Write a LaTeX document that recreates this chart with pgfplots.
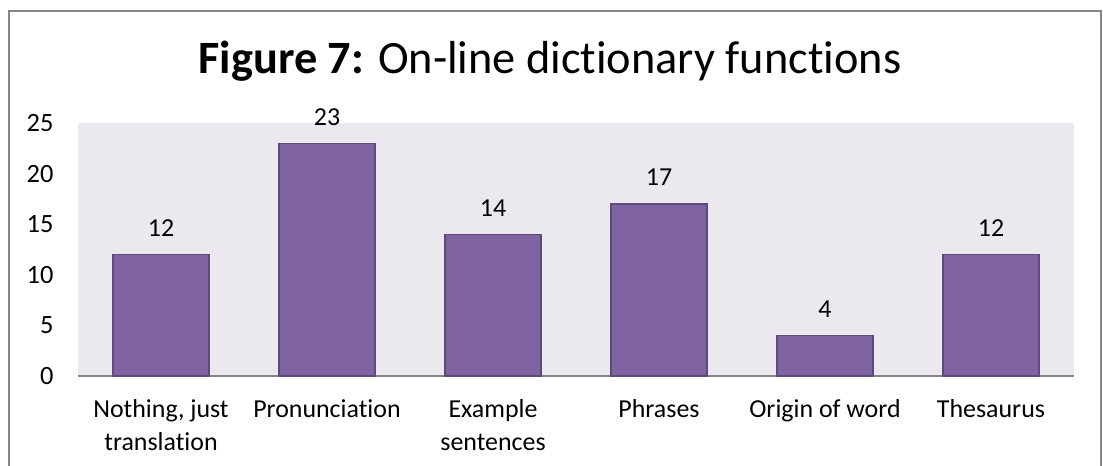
\documentclass[border=0pt]{standalone}
\usepackage{fontspec}
\setmainfont{Carlito}[Ligatures={NoCommon}]
\usepackage{pgfplots}
\pgfplotsset{compat=1.18}
\definecolor{barfill}{RGB}{128,100,162}
\definecolor{baredge}{RGB}{94,74,124}
\definecolor{plotbg}{RGB}{235,233,239}
\definecolor{axisgray}{RGB}{134,134,134}
\definecolor{framegray}{RGB}{134,134,134}
\begin{document}
\begin{tikzpicture}
\useasboundingbox (0,0) rectangle (1103bp,466bp);
\draw[framegray, line width=1.3bp] (9bp,-10bp) rectangle (1101bp,455bp);
\node[anchor=base, inner sep=0pt] at (550bp,392bp) {\fontsize{46.5}{54}\selectfont\textbf{Figure 7:} On-line dictionary functions};
\begin{axis}[
  at={(78bp,90bp)}, anchor=south west,
  scale only axis, width=996bp, height=253bp,
  xmin=-0.5, xmax=5.5, ymin=0, ymax=25,
  ybar, bar width=96bp,
  axis background/.style={fill=plotbg},
  axis x line*=bottom, axis y line*=left,
  x axis line style={draw=axisgray, line width=1.3bp, -},
  y axis line style={draw=none},
  major tick length=0pt,
  xtick={0,1,2,3,4,5},
  xticklabels={{Nothing, just\\translation},{Pronunciation},{Example\\sentences},{Phrases},{Origin of word},{Thesaurus}},
  xticklabel style={align=center, font=\fontsize{26}{33}\selectfont, yshift=-20bp},
  ytick={0,5,10,15,20,25},
  yticklabel style={font=\fontsize{26.5}{32}\selectfont, xshift=-21bp},
  /pgf/number format/assume math mode=true,
  nodes near coords,
  every node near coord/.append style={font=\fontsize{26}{32}\selectfont, text=black, yshift=14bp},
  clip=false,
]
\addplot[fill=barfill, draw=baredge, line width=1.3bp] coordinates {(0,12) (1,23) (2,14) (3,17) (4,4) (5,12)};
\end{axis}
\end{tikzpicture}
\end{document}
